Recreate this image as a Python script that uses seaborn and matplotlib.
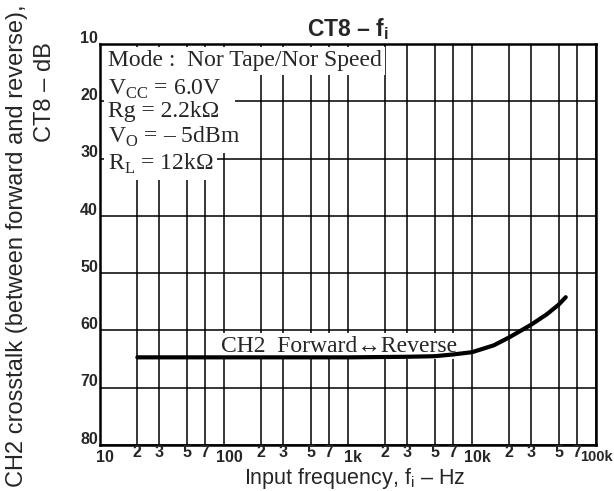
import numpy as np
import pandas as pd
import matplotlib
matplotlib.use('Agg')
import matplotlib.pyplot as plt
import matplotlib.transforms as mtransforms
import seaborn as sns

# curve
freq_hz = [20, 50, 100, 300, 1000, 3000, 5000, 7000, 10000, 15000, 20000, 30000, 40000, 50000, 57000]
ct8_db = [64.7, 64.7, 64.7, 64.7, 64.7, 64.6, 64.5, 64.2, 63.8, 62.6, 61.2, 59.0, 57.2, 55.5, 54.2]

decades = [10, 100, 1000, 10000, 100000]
decade_labels = ['10', '100', '1k', '10k', '100k']
minor_steps = [2, 3, 5, 7]
y_ticks = [10, 20, 30, 40, 50, 60, 70, 80]

cond_lines = ['Mode :  Nor Tape/Nor Speed',
              'V$_\\mathregular{CC}$ = 6.0V\u00a0\u00a0',
              'Rg = 2.2kΩ\u00a0\u00a0',
              r'V$_\mathregular{O}$ = – 5dBm',
              r'R$_\mathregular{L}$ = 12kΩ']
cond_y = [13.9, 18.9, 22.7, 27.3, 32.0]

df = pd.DataFrame({'f': freq_hz, 'ct': ct8_db})

sns.set_style('white')
plt.rcParams['font.family'] = ['Liberation Sans', 'DejaVu Sans']
plt.rcParams['mathtext.fontset'] = 'custom'

fig = plt.figure(figsize=(6.14, 4.91), dpi=100)
ax = fig.add_axes([100/614, 1-445/491, 496/614, 401/491])

sns.lineplot(data=df, x='f', y='ct', color='black', linewidth=3, ax=ax, zorder=4)
ax.set_xscale('log')
ax.set_xlim(10, 100000)
ax.set_ylim(80, 10)

minor_pos = [d*m for d in decades[:-1] for m in minor_steps]
ax.set_xticks(decades)
ax.set_xticks(minor_pos, minor=True)
ax.set_yticks(y_ticks)
ax.set_xticklabels([])
ax.set_xticklabels([], minor=True)
ax.set_yticklabels([])
ax.tick_params(which='both', length=0)
ax.grid(True, which='both', axis='x', color='black', linewidth=1.1)
ax.grid(True, which='major', axis='y', color='black', linewidth=1.1)
ax.set_axisbelow(True)
for s in ax.spines.values():
    s.set_color('black')
    s.set_linewidth(1.8)
ax.set_xlabel('')
ax.set_ylabel('')

tick_font = dict(fontsize=11.5, fontweight='bold', family=['Liberation Sans', 'DejaVu Sans'])
trans_x = mtransforms.blended_transform_factory(ax.transData, ax.transAxes)
for d, lab in zip(decades[:-1], decade_labels[:-1]):
    ax.text(d*1.1, -0.013, lab, transform=trans_x, ha='center', va='top', **tick_font)
# last decade label hugs the right edge of the figure
fig.text(0.998, 1-445/491 - 0.013*401/491, decade_labels[-1], ha='right', va='top',
         fontsize=10.5, fontweight='bold')
for p in minor_pos:
    ax.text(p, 0.0, str(int(round(p / 10**np.floor(np.log10(p))))), transform=trans_x,
            ha='center', va='top', **tick_font)
trans_y = mtransforms.blended_transform_factory(ax.transAxes, ax.transData)
for v in y_ticks:
    ax.text(-0.004, v + 0.3, str(v), transform=trans_y, ha='right', va='bottom', **tick_font)

serif = ['Liberation Serif', 'DejaVu Serif']
# white backing first, then the text on top so neighbouring boxes don't clip it
for txt, yv in zip(cond_lines, cond_y):
    ax.text(11.6, yv, txt, ha='left', va='baseline', fontsize=17, family=serif, zorder=3,
            color='white', bbox=dict(facecolor='white', edgecolor='none', pad=2.5))
for txt, yv in zip(cond_lines, cond_y):
    ax.text(11.6, yv, txt, ha='left', va='baseline', fontsize=17, family=serif, zorder=3.5)

ax.text(853, 63.7, 'CH2  Forward↔Reverse', ha='center', va='baseline', fontsize=17,
        family=serif, zorder=3, bbox=dict(facecolor='white', edgecolor='none', pad=1.5))

ax.set_title(r'CT8 – f$_\mathregular{i}$', fontsize=16.5, fontweight='bold', pad=6)
fig.text(0.577, 0.0, r'Input frequency, f$_\mathregular{i}$ – Hz', ha='center', va='bottom', fontsize=15.5)
fig.text(17/614, 0.5, 'CH2 crosstalk (between forward and reverse),', rotation=90,
         ha='center', va='center', fontsize=17)
fig.text(45/614, 1-92/491, 'CT8 – dB', rotation=90, ha='center', va='center', fontsize=17)

fig.savefig('out.png', dpi=100)
